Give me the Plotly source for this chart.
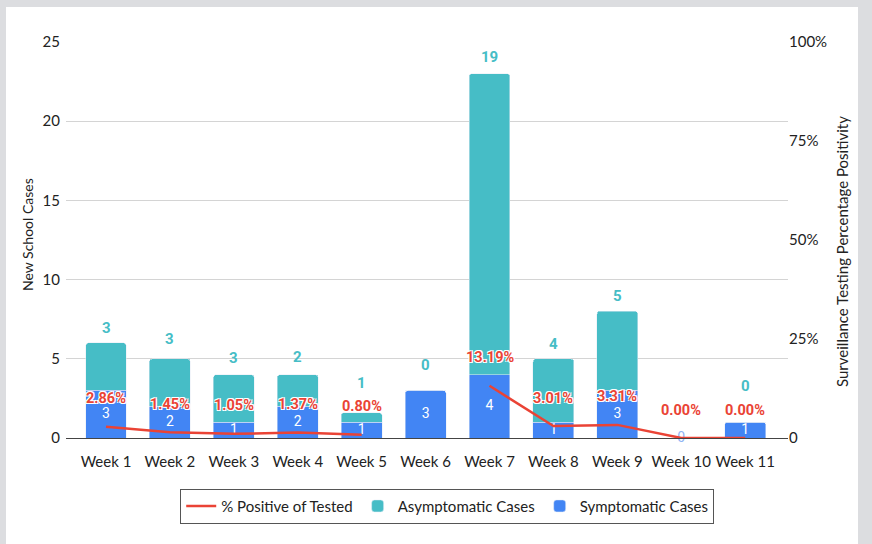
import plotly.graph_objects as go

weeks = ["Week 1", "Week 2", "Week 3", "Week 4", "Week 5", "Week 6",
         "Week 7", "Week 8", "Week 9", "Week 10", "Week 11"]
symptomatic = [3, 2, 1, 2, 1, 3, 4, 1, 3, 0, 1]
asymptomatic = [3, 3, 3, 2, 0.6, 0, 19, 4, 5, 0, 0]
asym_labels = ["3", "3", "3", "2", "1", "0", "19", "4", "5", "", "0"]
pct_positive = [2.86, 1.45, 1.05, 1.37, 0.80, None, 13.19, 3.01, 3.31, 0.00, 0.00]

left_ticks = [0, 5, 10, 15, 20, 25]
right_ticks = [0, 25, 50, 75, 100]
right_ticktext = ["0", "25%", "50%", "75%", "100%"]

BLUE = "#4285f4"
TEAL = "#46bdc6"
RED = "#ea4335"
FONT = "Lato"

# label centre offsets (px) above stack tops for asymptomatic labels
asym_label_shift = [15, 20, 17, 18, 30, 25, 17, 15, 15, 0, 36]

fig = go.Figure()

fig.add_trace(go.Bar(
    x=weeks, y=symptomatic, name="Symptomatic Cases",
    marker=dict(color=BLUE), width=0.64, legendrank=3,
    hoverinfo="skip",
))
fig.add_trace(go.Bar(
    x=weeks, y=asymptomatic, name="Asymptomatic Cases",
    marker=dict(color=TEAL), width=0.64, legendrank=2,
    hoverinfo="skip",
))
fig.add_trace(go.Scatter(
    x=weeks, y=pct_positive, name="% Positive of Tested", yaxis="y2",
    mode="lines", line=dict(color=RED, width=2.5), connectgaps=False,
    legendrank=1,
))
# symptomatic inside labels
fig.add_trace(go.Scatter(
    x=weeks, y=[v / 2 for v in symptomatic], mode="text",
    text=[str(v) for v in symptomatic], showlegend=False,
    textfont=dict(color=["white" if v > 0 else "#8fb3f4" for v in symptomatic],
                  size=14, family="Roboto"),
    cliponaxis=False, hoverinfo="skip",
))

annotations = []
for i, w in enumerate(weeks):
    if asym_labels[i]:
        annotations.append(dict(
            x=w, y=symptomatic[i] + asymptomatic[i], xref="x", yref="y",
            text="<b>" + asym_labels[i] + "</b>", showarrow=False,
            yshift=asym_label_shift[i], yanchor="middle",
            font=dict(color=TEAL, size=15, family="Roboto"),
        ))
    if pct_positive[i] is not None:
        annotations.append(dict(
            x=w, y=pct_positive[i], xref="x", yref="y2",
            text="<b>%.2f%%</b>" % pct_positive[i], showarrow=False,
            yshift=28, yanchor="middle",
            font=dict(color=RED, size=14.5, family="Roboto",
                      shadow="1px 1px 0 #fff, -1px -1px 0 #fff, 1px -1px 0 #fff, -1px 1px 0 #fff"),
        ))

# axis titles
annotations.append(dict(
    text="New School Cases", xref="paper", yref="paper",
    x=(27 - 66) / 722, y=(438 - 235) / 396, textangle=-90, showarrow=False,
    xanchor="center", yanchor="middle",
    font=dict(size=14, family=FONT, color="#222"),
))
annotations.append(dict(
    text="Surveillance Testing Percentage Positivity", xref="paper", yref="paper",
    x=(842 - 66) / 722, y=(438 - 252) / 396, textangle=-90, showarrow=False,
    xanchor="center", yanchor="middle",
    font=dict(size=15, family=FONT, color="#222"),
))

shapes = [dict(
    type="rect", xref="paper", yref="paper",
    x0=(6 - 66) / 722, x1=(858 - 66) / 722,
    y0=(438 - 560) / 396, y1=(438 - 7) / 396,
    fillcolor="white", line=dict(width=0), layer="below",
)]

fig.update_layout(
    width=872, height=544,
    margin=dict(l=66, r=84, t=42, b=106, pad=0),
    paper_bgcolor="#dcdde0", plot_bgcolor="rgba(0,0,0,0)",
    barmode="stack", barcornerradius=3,
    font=dict(family=FONT, size=14, color="#222"),
    showlegend=True,
    legend=dict(
        orientation="h", x=0.528, xanchor="center", y=-0.128, yanchor="top",
        bordercolor="#555", borderwidth=1, bgcolor="white",
        font=dict(family=FONT, size=15, color="#222"),
        traceorder="normal",
    ),
    xaxis=dict(
        type="category", range=[-0.626, 10.67],
        showline=True, linecolor="#444", linewidth=1,
        showgrid=False, ticks="outside", ticklen=10, tickcolor="rgba(0,0,0,0)",
        tickfont=dict(size=15, family=FONT, color="#222"),
    ),
    yaxis=dict(
        range=[0, 25], tickvals=left_ticks, showgrid=True,
        gridcolor="#d4d4d4", gridwidth=1, zeroline=False,
        ticks="outside", ticklen=2, tickcolor="rgba(0,0,0,0)",
        tickfont=dict(size=15, family=FONT, color="#222"),
    ),
    yaxis2=dict(
        range=[0, 100], overlaying="y", side="right",
        tickvals=right_ticks, ticktext=right_ticktext, showgrid=False,
        zeroline=False, ticks="",
        tickfont=dict(size=15, family=FONT, color="#222"),
    ),
    annotations=annotations,
    shapes=shapes,
)

fig.write_html("out.html")
